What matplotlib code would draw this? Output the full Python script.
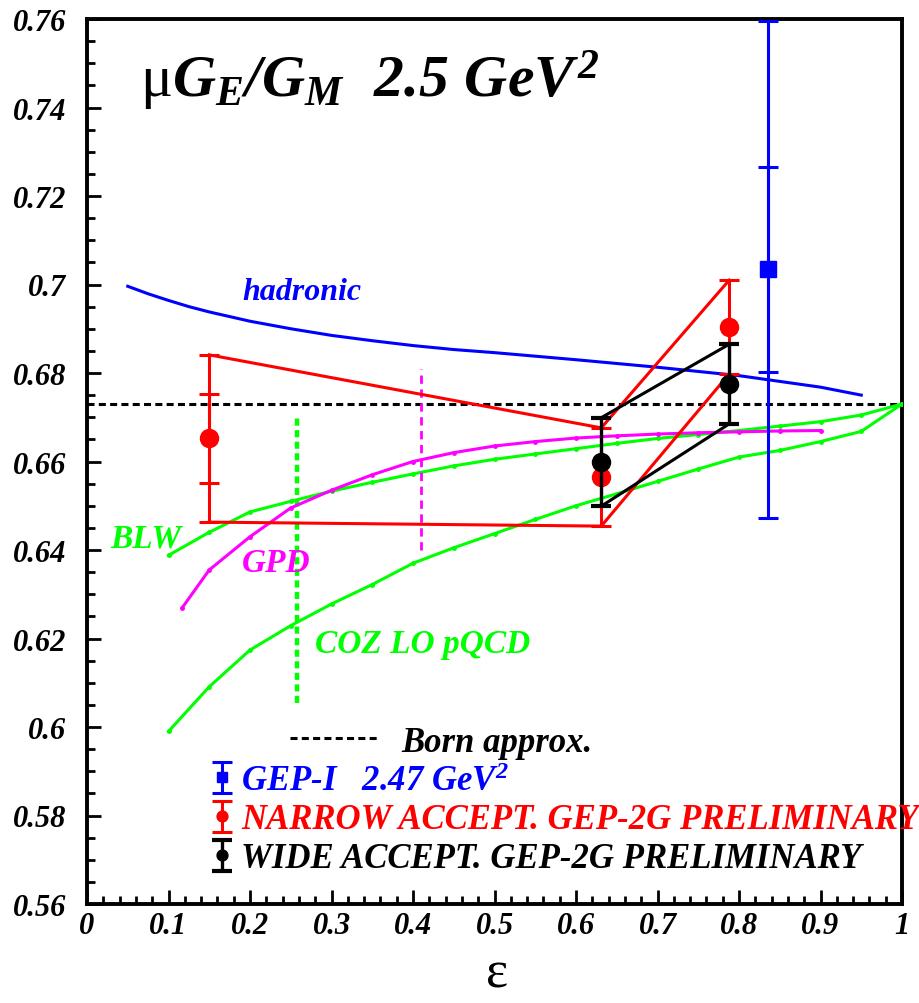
import matplotlib

matplotlib.use("Agg")
import matplotlib.pyplot as plt
from matplotlib.container import ErrorbarContainer
from matplotlib.legend_handler import HandlerErrorbar
from matplotlib.ticker import FuncFormatter, MultipleLocator

# Born approximation value of the ratio
born_ratio = 0.673

# Theory curves
hadronic_eps = [0.05, 0.075, 0.10, 0.125, 0.15, 0.20, 0.25, 0.30, 0.35, 0.40, 0.45, 0.50,
                0.60, 0.70, 0.80, 0.90, 0.95]
hadronic_val = [0.6996, 0.6979, 0.6964, 0.6950, 0.6938, 0.6917, 0.6900, 0.6885, 0.6873,
                0.6862, 0.6853, 0.6846, 0.6830, 0.6813, 0.6794, 0.6768, 0.6750]

blw_eps = [0.10, 0.15, 0.20, 0.25, 0.30, 0.35, 0.40, 0.45, 0.50, 0.55,
           0.60, 0.65, 0.70, 0.75, 0.80, 0.85, 0.90, 0.95, 1.00]
blw_val = [0.6388, 0.6440, 0.6486, 0.6510, 0.6533, 0.6553, 0.6572, 0.6590, 0.6605, 0.6617,
           0.6629, 0.6641, 0.6652, 0.6661, 0.6670, 0.6680, 0.6690, 0.6705, 0.6730]

coz_eps = [0.10, 0.15, 0.20, 0.25, 0.30, 0.35, 0.40, 0.45, 0.50, 0.55,
           0.60, 0.65, 0.70, 0.75, 0.80, 0.85, 0.90, 0.95, 1.00]
coz_val = [0.5990, 0.6091, 0.6174, 0.6229, 0.6278, 0.6322, 0.6370, 0.6405, 0.6437, 0.6469,
           0.6500, 0.6527, 0.6555, 0.6583, 0.6610, 0.6625, 0.6645, 0.6668, 0.6730]

gpd_eps = [0.117, 0.15, 0.20, 0.25, 0.30, 0.35, 0.40, 0.45, 0.50, 0.55,
           0.60, 0.65, 0.70, 0.75, 0.80, 0.85, 0.90]
gpd_val = [0.6270, 0.6355, 0.6430, 0.6495, 0.6535, 0.6570, 0.6600, 0.6620, 0.6635, 0.6645,
           0.6653, 0.6658, 0.6662, 0.6665, 0.6667, 0.6669, 0.6670]

# theory spread markers (vertical dashed segments)
coz_spread_eps = 0.258
coz_spread = (0.6054, 0.6701)
gpd_spread_eps = 0.410
gpd_spread = (0.6400, 0.6810)

# Data
gep1_eps = [0.835]
gep1_val = [0.7034]
gep1_stat = [0.0232]
gep1_tot = [0.0562]

narrow_eps = [0.150, 0.631, 0.788]
narrow_val = [0.6652, 0.6565, 0.6904]
narrow_err = [0.0189, 0.0111, 0.0106]
narrow_stat_eps = [0.150]
narrow_stat_val = [0.6652]
narrow_stat_err = [0.0101]

wide_eps = [0.631, 0.788]
wide_val = [0.6599, 0.6775]
wide_err = [0.0100, 0.0090]

BLUE = "#0000ff"
RED = "#ff0000"
GREEN = "#00ff00"
MAGENTA = "#ff00ff"

plt.rcParams["font.family"] = ["Liberation Serif", "DejaVu Serif"]
plt.rcParams["font.weight"] = "bold"
plt.rcParams["font.style"] = "italic"
plt.rcParams["mathtext.fontset"] = "custom"
plt.rcParams["mathtext.rm"] = "Liberation Serif:bold:italic"
plt.rcParams["mathtext.it"] = "Liberation Serif:bold:italic"
plt.rcParams["mathtext.bf"] = "Liberation Serif:bold:italic"
plt.rcParams["mathtext.sf"] = "Liberation Serif:roman:normal"

fig = plt.figure(figsize=(9.19, 10.04), dpi=100)
ax = fig.add_axes([87 / 919, 99 / 1004, 815 / 919, 885 / 1004])

born = ax.axhline(born_ratio, color="black", lw=2.2, ls=(0, (2.3, 1.4)), zorder=2)

ax.plot(hadronic_eps, hadronic_val, color=BLUE, lw=2.2, zorder=3)
ax.plot(blw_eps, blw_val, color=GREEN, lw=2.2, marker="o", ms=2.5, zorder=3)
ax.plot(coz_eps, coz_val, color=GREEN, lw=2.2, marker="o", ms=2.5, zorder=3)
ax.plot(gpd_eps, gpd_val, color=MAGENTA, lw=2.2, marker="o", ms=2.5, zorder=4)

ax.vlines(coz_spread_eps, *coz_spread, color=GREEN, lw=3.2, ls=(0, (1.6, 1.0)), zorder=3)
ax.vlines(gpd_spread_eps, *gpd_spread, color=MAGENTA, lw=2.0, ls=(0, (3.0, 2.0)), zorder=3)

# envelopes joining the ends of the error bars
narrow_hi = [v + e for v, e in zip(narrow_val, narrow_err)]
narrow_lo = [v - e for v, e in zip(narrow_val, narrow_err)]
wide_hi = [v + e for v, e in zip(wide_val, wide_err)]
wide_lo = [v - e for v, e in zip(wide_val, wide_err)]
ax.plot(narrow_eps, narrow_hi, color=RED, lw=2.2, zorder=5)
ax.plot(narrow_eps, narrow_lo, color=RED, lw=2.2, zorder=5)
ax.plot(wide_eps, wide_hi, color="black", lw=2.2, zorder=6)
ax.plot(wide_eps, wide_lo, color="black", lw=2.2, zorder=6)

eb = dict(elinewidth=2.2, capthick=2.2, capsize=7, zorder=7)
gep1 = ax.errorbar(gep1_eps, gep1_val, yerr=gep1_tot, fmt="s", color=BLUE, ms=12, **eb)
ax.errorbar(gep1_eps, gep1_val, yerr=gep1_stat, fmt="none", ecolor=BLUE, **eb)
narrow = ax.errorbar(narrow_eps, narrow_val, yerr=narrow_err, fmt="o", color=RED, ms=13, **eb)
ax.errorbar(narrow_stat_eps, narrow_stat_val, yerr=narrow_stat_err, fmt="none", ecolor=RED, **eb)
wide = ax.errorbar(wide_eps, wide_val, yerr=wide_err, fmt="o", color="black", ms=13,
                   elinewidth=2.4, capthick=3, capsize=7, zorder=8)

# curve labels
ax.text(0.191, 0.6984, "hadronic", color=BLUE, fontsize=23, va="center")
ax.text(0.028, 0.6426, "BLW", color=GREEN, fontsize=24, va="center")
ax.text(0.190, 0.6372, "GPD", color=MAGENTA, fontsize=24, va="center")
ax.text(0.280, 0.6189, "COZ LO pQCD", color=GREEN, fontsize=24, va="center")

ax.text(0.065, 0.913, r"$\mathsf{\mu}G_E/G_M\ \ 2.5\ GeV^2$", transform=ax.transAxes,
        fontsize=43, va="baseline")

leg_born = ax.legend([born], ["Born approx."], loc="center left", bbox_to_anchor=(0.249, 0.183),
                     frameon=False, handlelength=2.5, handletextpad=0.7, borderpad=0,
                     borderaxespad=0, fontsize=25)
ax.add_artist(leg_born)

leg = ax.legend([gep1, narrow, wide],
                [r"GEP-I   2.47 GeV$^2$", "NARROW ACCEPT. GEP-2G PRELIMINARY",
                 "WIDE ACCEPT. GEP-2G PRELIMINARY"],
                handler_map={ErrorbarContainer: HandlerErrorbar(yerr_size=0.45)},
                loc="center left", bbox_to_anchor=(0.153, 0.095), frameon=False,
                handlelength=0.62, handletextpad=0.22, labelspacing=0.17, borderpad=0,
                borderaxespad=0, markerscale=0.6, fontsize=25)
for txt, col in zip(leg.get_texts(), [BLUE, RED, "black"]):
    txt.set_color(col)
leg.set_clip_on(False)

ax.set_xlim(0, 1)
ax.set_ylim(0.56, 0.76)
ax.xaxis.set_major_locator(MultipleLocator(0.1))
ax.xaxis.set_minor_locator(MultipleLocator(0.02))
ax.yaxis.set_major_locator(MultipleLocator(0.02))
ax.yaxis.set_minor_locator(MultipleLocator(0.005))
fmt = FuncFormatter(lambda v, _: f"{v:g}")
ax.xaxis.set_major_formatter(fmt)
ax.yaxis.set_major_formatter(fmt)
ax.tick_params(which="both", direction="in", top=False, right=False, width=2)
ax.tick_params(which="major", length=10, labelsize=22)
ax.tick_params(which="minor", length=6)
ax.tick_params(axis="y", which="major", pad=15)
ax.tick_params(axis="x", which="major", pad=5)
for spine in ax.spines.values():
    spine.set_linewidth(2.8)

ax.set_xlabel("ε", fontsize=38, fontstyle="normal", fontweight="normal", va="center")
ax.xaxis.set_label_coords(0.503, -0.079)

fig.savefig("out.png", dpi=100, facecolor="white")
